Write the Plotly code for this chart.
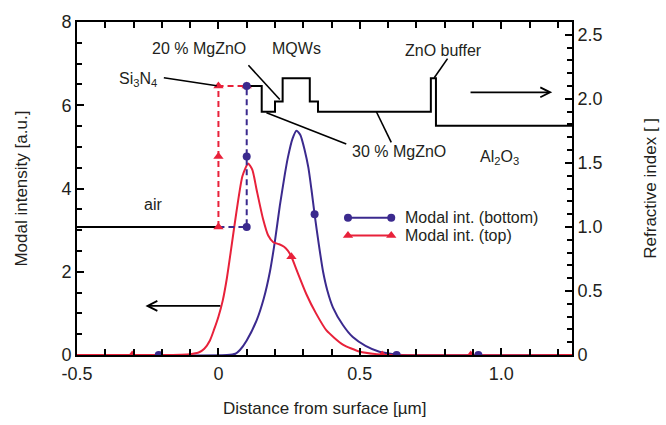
import plotly.graph_objects as go

# ---------------- data ----------------
# modal intensity curves (left axis)
top_x = [-0.5, -0.2, -0.1, -0.07, -0.05, -0.03, -0.015, 0.0, 0.015, 0.03, 0.045, 0.065, 0.085, 0.105, 0.12, 0.135,
         0.158, 0.176, 0.194, 0.215, 0.232, 0.246, 0.258, 0.28, 0.311, 0.345, 0.382, 0.44, 0.5, 0.56, 0.6, 1.25]
top_y = [0, 0, 0.02, 0.06, 0.15, 0.35, 0.62, 0.92, 1.3, 1.85, 2.55, 3.5, 4.3, 4.6, 4.45, 3.97,
         3.26, 2.87, 2.71, 2.66, 2.6, 2.5, 2.36, 1.98, 1.46, 1.0, 0.59, 0.25, 0.08, 0.02, 0, 0]
bot_x = [-0.5, 0.03, 0.06, 0.076, 0.1, 0.135, 0.16, 0.182, 0.2, 0.217, 0.235, 0.246, 0.262, 0.276,
         0.29, 0.305, 0.318, 0.329, 0.34, 0.355, 0.37, 0.385, 0.405, 0.44, 0.475, 0.52, 0.569, 0.62, 0.65, 1.25]
bot_y = [0, 0, 0.03, 0.12, 0.35, 0.83, 1.35, 2.0, 2.75, 3.58, 4.35, 4.76, 5.2, 5.39,
         5.28, 4.92, 4.5, 3.97, 3.38, 2.65, 2.0, 1.55, 1.14, 0.72, 0.43, 0.22, 0.08, 0.02, 0, 0]
top_mk_x = [-0.305, 0.258, 0.579, 0.892]
top_mk_y = [0, 2.36, 0, 0]
bot_mk_x = [-0.211, 0.34, 0.63, 0.919]
bot_mk_y = [0, 3.38, 0, 0]

# refractive index (right axis)
air_x = [-0.5, 0.0]
air_n = [1.0, 1.0]
prof_x = [0.1, 0.153, 0.153, 0.2, 0.2, 0.227, 0.227, 0.323, 0.323, 0.352, 0.352,
          0.751, 0.751, 0.769, 0.769, 1.25]
prof_n = [2.1, 2.1, 1.9, 1.9, 1.98, 1.98, 2.16, 2.16, 1.98, 1.98, 1.9,
          1.9, 2.16, 2.16, 1.79, 1.79]
top_idx_x = [0.0, 0.0, 0.1]
top_idx_n = [1.0, 2.1, 2.1]
top_idx_mk_x = [0.0, 0.0, 0.0, 0.1]
top_idx_mk_n = [1.0, 1.55, 2.1, 2.1]
bot_idx_x = [0.0, 0.1, 0.1]
bot_idx_n = [1.0, 1.0, 2.1]
bot_idx_mk_x = [0.1, 0.1, 0.1]
bot_idx_mk_n = [1.0, 1.55, 2.1]

x_ticks = [-0.5, 0.0, 0.5, 1.0]
x_ticktext = ["-0.5", "0", "0.5", "1.0"]
y_ticks = [0, 2, 4, 6, 8]
y2_ticks = [0, 0.5, 1.0, 1.5, 2.0, 2.5]
y2_ticktext = ["0", "0.5", "1.0", "1.5", "2.0", "2.5"]
legend_names = ["Modal int. (bottom)", "Modal int. (top)"]

BLUE = "#3b2a8e"
RED = "#e8213a"
TXT = "#231f20"
FONT = "Liberation Sans, Arial, sans-serif"

fig = go.Figure()

# intensity curves
fig.add_trace(go.Scatter(x=bot_x, y=bot_y, mode="lines", line=dict(color=BLUE, width=2, shape="spline", smoothing=0.6),
                         showlegend=False, hoverinfo="skip"))
fig.add_trace(go.Scatter(x=top_x, y=top_y, mode="lines", line=dict(color=RED, width=2, shape="spline", smoothing=0.6),
                         showlegend=False, hoverinfo="skip"))
fig.add_trace(go.Scatter(x=bot_mk_x, y=bot_mk_y, mode="markers", marker=dict(color=BLUE, size=8, symbol="circle"),
                         showlegend=False))
fig.add_trace(go.Scatter(x=top_mk_x, y=top_mk_y, mode="markers", marker=dict(color=RED, size=9, symbol="triangle-up"),
                         showlegend=False))

# refractive index
fig.add_trace(go.Scatter(x=air_x, y=air_n, yaxis="y2", mode="lines", line=dict(color="black", width=2),
                         showlegend=False))
fig.add_trace(go.Scatter(x=prof_x, y=prof_n, yaxis="y2", mode="lines", line=dict(color="black", width=2),
                         showlegend=False))
fig.add_trace(go.Scatter(x=top_idx_x, y=top_idx_n, yaxis="y2", mode="lines",
                         line=dict(color=RED, width=2, dash="6px,4px"), showlegend=False))
fig.add_trace(go.Scatter(x=bot_idx_x, y=bot_idx_n, yaxis="y2", mode="lines",
                         line=dict(color=BLUE, width=2, dash="6px,4px"), showlegend=False))
fig.add_trace(go.Scatter(x=top_idx_mk_x, y=top_idx_mk_n, yaxis="y2", mode="markers",
                         marker=dict(color=RED, size=9, symbol="triangle-up"), showlegend=False))
fig.add_trace(go.Scatter(x=bot_idx_mk_x, y=bot_idx_mk_n, yaxis="y2", mode="markers",
                         marker=dict(color=BLUE, size=8, symbol="circle"), showlegend=False))

# manual legend (layout positions)
LEG_X = [0.458, 0.611]
LEG_Y = [3.30, 2.87]
fig.add_trace(go.Scatter(x=LEG_X, y=[LEG_Y[0]] * 2, mode="lines+markers",
                         line=dict(color=BLUE, width=2), marker=dict(color=BLUE, size=8, symbol="circle"),
                         showlegend=False))
fig.add_trace(go.Scatter(x=LEG_X, y=[LEG_Y[1]] * 2, mode="lines+markers",
                         line=dict(color=RED, width=2), marker=dict(color=RED, size=9, symbol="triangle-up"),
                         showlegend=False))
for name, ly in zip(legend_names, LEG_Y):
    fig.add_annotation(x=0.652, y=ly, text=name, showarrow=False, xanchor="left", yanchor="middle",
                       font=dict(size=16, color=TXT, family=FONT))

# labels
labels = [
    ("Si<sub>3</sub>N<sub>4</sub>", -0.286, 6.62),
    ("20 % MgZnO", -0.068, 7.36),
    ("MQWs", 0.277, 7.36),
    ("30 % MgZnO", 0.64, 4.88),
    ("ZnO buffer", 0.795, 7.32),
    ("Al<sub>2</sub>O<sub>3</sub>", 0.992, 4.75),
    ("air", -0.233, 3.62),
]
for t, lx, ly in labels:
    fig.add_annotation(x=lx, y=ly, text=t, showarrow=False, xanchor="center", yanchor="middle",
                       font=dict(size=16, color=TXT, family=FONT))

# leader lines
leaders = [
    (-0.193, 6.66, -0.006, 6.47),
    (0.106, 6.96, 0.217, 6.14),
    (0.170, 5.82, 0.452, 5.07),
    (0.558, 5.85, 0.611, 5.11),
    (0.81, 7.12, 0.763, 6.66),
]
for x0, y0, x1, y1 in leaders:
    fig.add_shape(type="line", x0=x0, y0=y0, x1=x1, y1=y1, xref="x", yref="y",
                  line=dict(color="black", width=1.6))

# arrows
fig.add_annotation(x=-0.258, y=1.18, ax=0.012, ay=1.18, xref="x", yref="y", axref="x", ayref="y",
                   showarrow=True, arrowhead=5, arrowsize=1.2, arrowwidth=1.6, arrowcolor="black", text="")
fig.add_annotation(x=1.18, y=6.31, ax=0.886, ay=6.31, xref="x", yref="y", axref="x", ayref="y",
                   showarrow=True, arrowhead=5, arrowsize=1.2, arrowwidth=1.6, arrowcolor="black", text="")

# axis titles
fig.add_annotation(x=0.5, y=-0.162, xref="paper", yref="paper", text="Distance from surface [µm]",
                   showarrow=False, font=dict(size=17, color=TXT, family=FONT), yanchor="middle")
fig.add_annotation(x=-0.113, y=0.5, xref="paper", yref="paper", text="Modal intensity [a.u.]",
                   showarrow=False, textangle=-90, font=dict(size=17, color=TXT, family=FONT), xanchor="center")
fig.add_annotation(x=1.158, y=0.5, xref="paper", yref="paper", text="Refractive index [ ]",
                   showarrow=False, textangle=-90, font=dict(size=17, color=TXT, family=FONT), xanchor="center")

axis_common = dict(showline=True, linecolor="black", linewidth=2, ticks="inside", ticklen=7, tickwidth=1.6,
                   tickcolor="black", showgrid=False, zeroline=False,
                   tickfont=dict(size=18, color=TXT, family=FONT))

fig.update_layout(
    width=666, height=425,
    margin=dict(l=77, r=94, t=16, b=70),
    paper_bgcolor="white", plot_bgcolor="white",
    font=dict(family=FONT, color=TXT),
    showlegend=False,
    xaxis=dict(range=[-0.5, 1.25], tickvals=x_ticks, ticktext=x_ticktext, mirror="ticks",
               ticklabelstandoff=1,
               minor=dict(dtick=0.1, ticklen=6, tickwidth=1.6, tickcolor="black", ticks="inside"),
               **axis_common),
    yaxis=dict(range=[0, 8], tickvals=y_ticks,
               minor=dict(dtick=0.5, ticklen=5, tickwidth=1.6, tickcolor="black", ticks="inside"),
               **axis_common),
    yaxis2=dict(range=[0, 2.6], overlaying="y", side="right", tickvals=y2_ticks, ticktext=y2_ticktext,
                minor=dict(dtick=0.1, ticklen=5, tickwidth=1.6, tickcolor="black", ticks="inside"),
                **axis_common),
)

fig.write_html("out.html")
